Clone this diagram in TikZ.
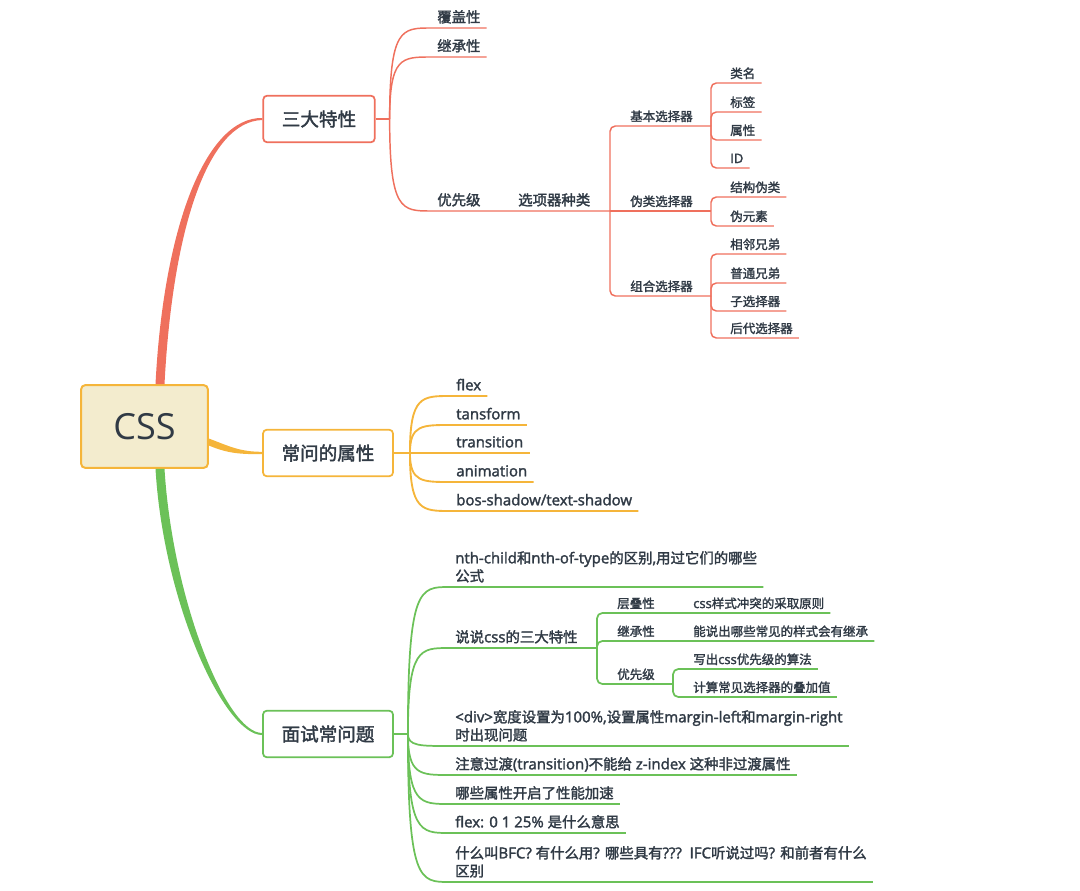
\documentclass[tikz,border=0pt]{standalone}
\usepackage{fontspec}
\setmainfont{Open Sans}[FakeBold=2]
\newfontfamily\cjkfont{Noto Sans CJK SC}[Scale=0.96, FakeBold=2]
\usetikzlibrary{calc}
\definecolor{mapred}{HTML}{EF705D}
\definecolor{mapgold}{HTML}{F5B53A}
\definecolor{mapgreen}{HTML}{6BC158}
\definecolor{mapink}{HTML}{303A45}
\definecolor{mapcream}{HTML}{F3ECCE}
\newcommand\zh[1]{{\cjkfont #1}}
\tikzset{
  rootbox/.style={draw=mapgold, fill=mapcream, line width=1.5pt, rounded corners=3pt, minimum width=95pt, minimum height=62pt, font=\fontsize{27}{32}\selectfont, text=mapink},
  topic/.style={draw=#1, fill=white, line width=1.3pt, rounded corners=3pt, inner xsep=14pt, minimum height=35pt, font=\fontsize{14.5}{17}\selectfont\cjkfont, text=mapink},
  twig/.style={anchor=south west, inner xsep=4.5pt, inner ysep=0pt, align=left, text=mapink, font=\fontsize{11.25}{13.5}\selectfont, execute at end node=\strut},
  leaf/.style={twig, font=\fontsize{9.75}{11.7}\selectfont},
  limb/.style={to path={.. controls (\tikztostart |- \tikztotarget) and ($(\tikztostart |- \tikztotarget)+(12,0)$) .. (\tikztotarget)}},
  redline/.style={draw=mapred, line width=1.1pt},
  goldline/.style={draw=mapgold, line width=1.4pt},
  greenline/.style={draw=mapgreen, line width=1.3pt},
}

\begin{document}
\begin{tikzpicture}[x=0.75pt,y=-0.75pt]
\useasboundingbox (0,0) rectangle (1080,891);
% root and the three main topics
\node[rootbox] (css) at (144.5,426.5) {\addfontfeature{FakeBold=0}CSS};
\node[topic=mapred] (sanda) at (319,119) {三大特性};
\node[topic=mapgold] (chang) at (328,453) {常问的属性};
\node[topic=mapgreen] (mian) at (328,734) {面试常问题};

% thick branches out of the root
\fill[mapred] ($(css.north)+(11,0)$) .. controls +(8,-156) and +(-57,-1) .. ($(sanda.west)+(0,-1)$)
  -- ($(sanda.west)+(0,1)$) .. controls +(-55,1.5) and +(8,-154) .. ($(css.north)+(20,0)$) -- cycle;
\fill[mapgold] ($(css.east)+(0,12)$) .. controls +(21,8) and +(-22,0) .. ($(chang.west)+(0,-1.2)$)
  -- ($(chang.west)+(0,1.2)$) .. controls +(-22,0) and +(19,8) .. ($(css.east)+(0,19)$) -- cycle;
\fill[mapgreen] ($(css.south)+(11,0)$) .. controls +(8,134) and +(-38,0) .. ($(mian.west)+(0,1)$)
  -- ($(mian.west)+(0,-1)$) .. controls +(-36,0) and +(8,130) .. ($(css.south)+(20,0)$) -- cycle;

% --- three properties
\coordinate (jr) at ($(sanda.east)+(14,0)$);
\draw[redline] (sanda) -- (jr);
\node[twig] (fugai) at (431,28) {\zh{覆盖性}};
\node[twig] (jicheng) at (431,57) {\zh{继承性}};
\node[twig] (youxian) at (431,211) {\zh{优先级}};
\node[twig] (xuanze) at (512,211) {\zh{选项器种类}};
\coordinate (jx) at (610,211);
\node[leaf] (jiben) at (624,126) {\zh{基本选择器}};
\node[leaf] (weilei) at (624,211) {\zh{伪类选择器}};
\node[leaf] (zuhe) at (624,296) {\zh{组合选择器}};
\coordinate (jb) at (711,126);
\coordinate (jw) at (711,211);
\coordinate (jz) at (711,296);
\node[leaf] (leiming) at (724,83) {\zh{类名}};
\node[leaf] (biaoqian) at (724,112) {\zh{标签}};
\node[leaf] (shuxing) at (724,140) {\zh{属性}};
\node[leaf] (idsel) at (724,168) {ID};
\node[leaf] (jiegou) at (724,197) {\zh{结构伪类}};
\node[leaf] (weiyuan) at (724,226) {\zh{伪元素}};
\node[leaf] (xianglin) at (724,254) {\zh{相邻兄弟}};
\node[leaf] (putong) at (724,283) {\zh{普通兄弟}};
\node[leaf] (zixuan) at (724,311) {\zh{子选择器}};
\node[leaf] (houdai) at (724,338) {\zh{后代选择器}};

\draw[redline] (jr) to[limb] (fugai.south west) -- (fugai.south east);
\draw[redline] (jr) to[limb] (jicheng.south west) -- (jicheng.south east);
\draw[redline] (jr) to[limb] (youxian.south west) -- (xuanze.south east) -- (jx);
\draw[redline, rounded corners=4pt] (jx) |- (jiben.south west) -- (jb);
\draw[redline] (jx) -- (weilei.south west) -- (jw);
\draw[redline, rounded corners=4pt] (jx) |- (zuhe.south west) -- (jz);
\foreach \n in {leiming,biaoqian,shuxing,idsel}
  \draw[redline, rounded corners=4pt] (jb) |- (\n.south west) -- (\n.south east);
\foreach \n in {jiegou,weiyuan}
  \draw[redline, rounded corners=4pt] (jw) |- (\n.south west) -- (\n.south east);
\foreach \n in {xianglin,putong,zixuan,houdai}
  \draw[redline, rounded corners=4pt] (jz) |- (\n.south west) -- (\n.south east);

% --- common properties
\coordinate (jo) at ($(chang.east)+(16,0)$);
\draw[goldline] (chang) -- (jo);
\node[twig] (flex) at (450,396) {flex};
\node[twig] (tansform) at (450,425) {tansform};
\node[twig] (transition) at (450,453) {transition};
\node[twig] (animation) at (450,482) {animation};
\node[twig] (shadow) at (450,511) {bos-shadow/text-shadow};
\foreach \n in {flex,tansform,transition,animation,shadow}
  \draw[goldline] (jo) to[limb] (\n.south west) -- (\n.south east);

% --- interview questions
\coordinate (jg) at ($(mian.east)+(14,0)$);
\draw[greenline, line width=2pt] (mian) -- (jg);
\node[twig] (nth) at (449,587) {nth-child\zh{和}nth-of-type\zh{的区别},\zh{用过它们的哪些}\\\zh{公式}};
\node[twig] (shuo) at (449,648) {\zh{说说}css\zh{的三大特性}};
\coordinate (js) at (597,648);
\node[leaf] (cengdie) at (611,613) {\zh{层叠性}};
\node[leaf] (chongtu) at (687,613) {css\zh{样式冲突的采取原则}};
\node[leaf] (jicheng2) at (611,641) {\zh{继承性}};
\node[leaf] (nengshuo) at (687,641) {\zh{能说出哪些常见的样式会有继承}};
\node[leaf] (youxian2) at (611,684) {\zh{优先级}};
\coordinate (jy) at (673,684);
\node[leaf] (xiechu) at (687,669) {\zh{写出}css\zh{优先级的算法}};
\node[leaf] (jisuan) at (687,697) {\zh{计算常见选择器的叠加值}};
\node[twig] (divw) at (449,746) {<div>\zh{宽度设置为}100\%,\zh{设置属性}margin-left\zh{和}margin-right\\\zh{时出现问题}};
\node[twig] (zhuyi) at (449,775) {\zh{注意过渡}(transition)\zh{不能给} z-index \zh{这种非过渡属性}};
\node[twig] (naxie) at (449,804) {\zh{哪些属性开启了性能加速}};
\node[twig] (flexq) at (449,833) {flex: 0 1 25\% \zh{是什么意思}};
\node[twig] (bfc) at (449,882) {\zh{什么叫}BFC? \zh{有什么用}? \zh{哪些具有}???\ \ IFC\zh{听说过吗}? \zh{和前者有什么}\\\zh{区别}};

\foreach \n in {nth,divw,zhuyi,naxie,flexq,bfc}
  \draw[greenline] (jg) to[limb] (\n.south west) -- (\n.south east);
\draw[greenline] (jg) to[limb] (shuo.south west) -- (js);
\draw[greenline, rounded corners=4pt] (js) |- (cengdie.south west) -- (chongtu.south east);
\draw[greenline, rounded corners=4pt] (js) |- (jicheng2.south west) -- (nengshuo.south east);
\draw[greenline, rounded corners=4pt] (js) |- (youxian2.south west) -- (jy);
\draw[greenline, rounded corners=4pt] (jy) |- (xiechu.south west) -- (xiechu.south east);
\draw[greenline, rounded corners=4pt] (jy) |- (jisuan.south west) -- (jisuan.south east);
\end{tikzpicture}
\end{document}
